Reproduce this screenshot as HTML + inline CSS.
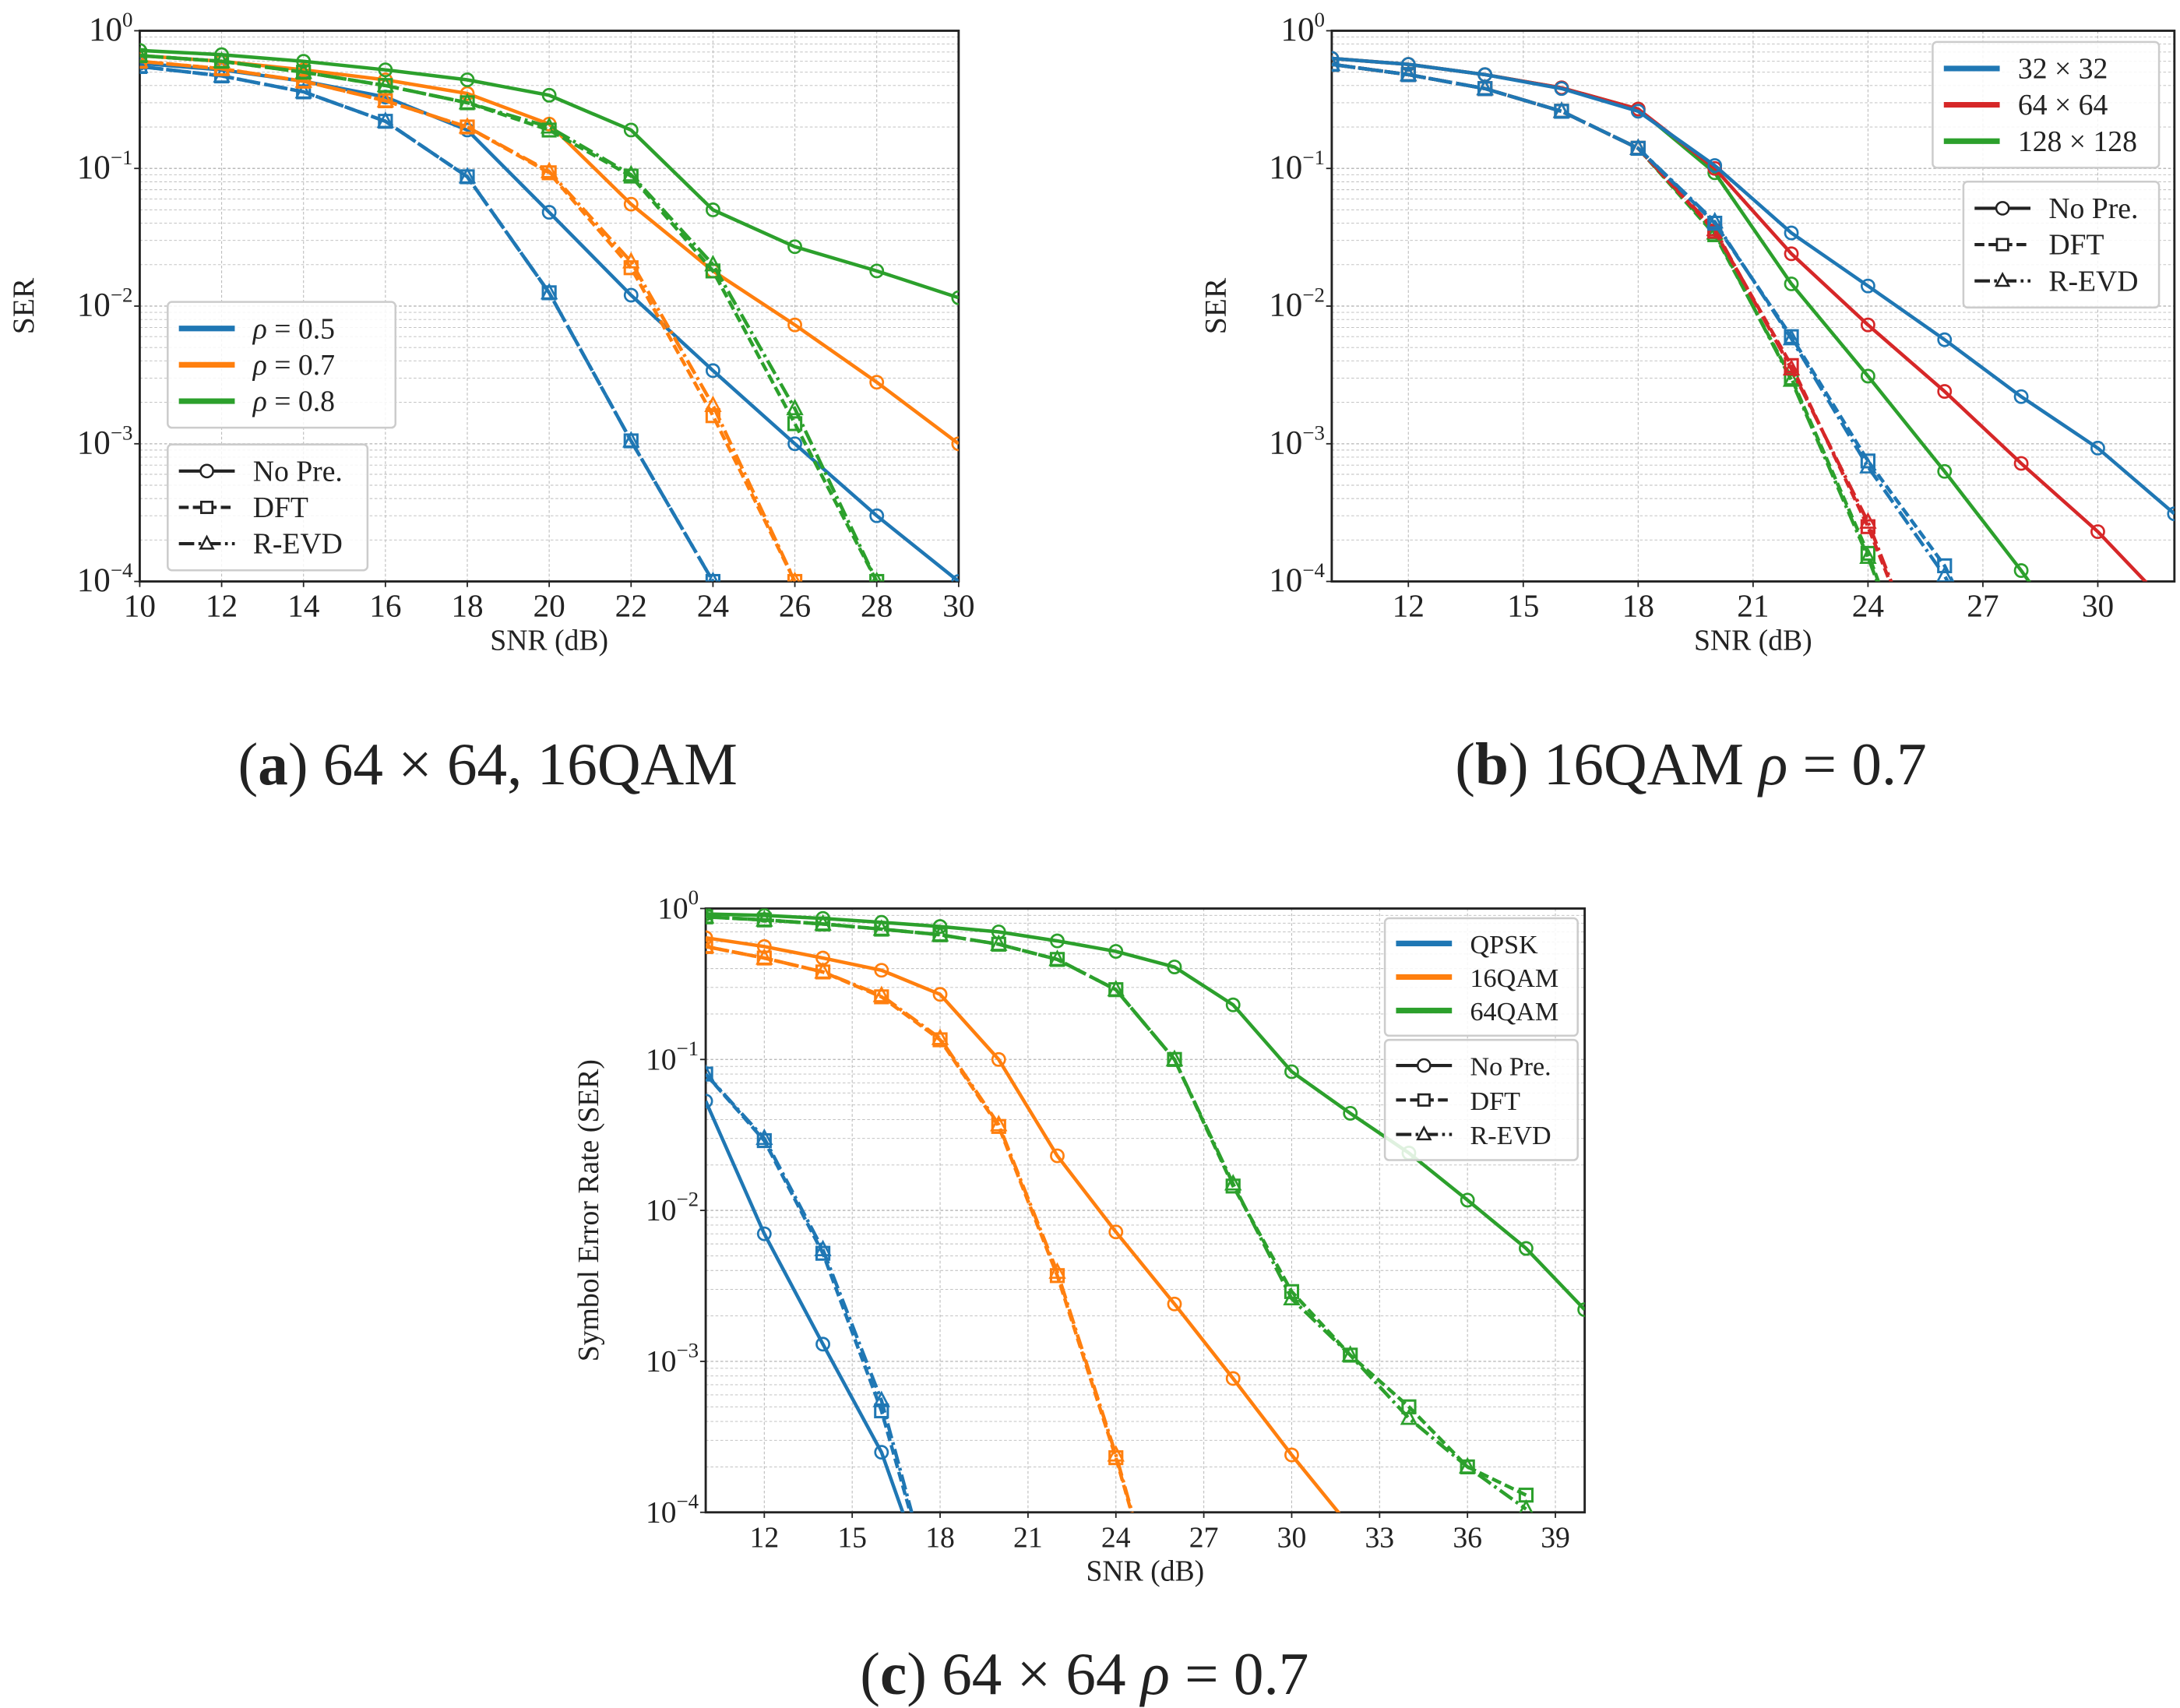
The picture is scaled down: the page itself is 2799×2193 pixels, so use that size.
<!DOCTYPE html>
<html><head><meta charset="utf-8">
<style>
html,body{margin:0;padding:0;background:#fff;}
svg{display:block;}
text{font-family:"Liberation Serif",serif;fill:#222;}
</style></head>
<body>
<svg id="fig" width="2799" height="2193" viewBox="0 0 1560 1222" preserveAspectRatio="none" xmlns="http://www.w3.org/2000/svg"></svg>
<script>
// ---------- Panel (a) data ----------
const aX = [10,12,14,16,18,20,22,24,26,28,30];
const aBlueNo  = [0.58,0.52,0.43,0.33,0.19,0.048,0.012,0.0034,0.001,0.0003,0.0001];
const aBlueDft = [0.55,0.47,0.36,0.22,0.087,0.0125,0.00105,0.0001];
const aBlueEvd = [0.55,0.47,0.36,0.22,0.087,0.0125,0.00105,0.0001];
const aOrNo    = [0.66,0.6,0.52,0.44,0.35,0.21,0.055,0.018,0.0073,0.0028,0.001];
const aOrDft   = [0.6,0.53,0.43,0.31,0.2,0.093,0.019,0.0016,0.0001];
const aOrEvd   = [0.6,0.53,0.43,0.31,0.2,0.095,0.021,0.0019,0.0001];
const aGrNo    = [0.72,0.67,0.6,0.52,0.44,0.34,0.19,0.05,0.027,0.018,0.0115];
const aGrDft   = [0.66,0.6,0.5,0.4,0.3,0.19,0.088,0.018,0.0014,0.0001];
const aGrEvd   = [0.66,0.6,0.5,0.4,0.3,0.2,0.09,0.02,0.0018,0.0001];
const aTicks = ["10","12","14","16","18","20","22","24","26","28","30"];
// ---------- Panel (b) data ----------
const bX = [10,12,14,16,18,20,22,24,26,28,30,32];
const bBlueNo = [0.63,0.57,0.48,0.38,0.26,0.105,0.034,0.014,0.0057,0.0022,0.00093,0.00031];
const bRedNo  = [0.63,0.57,0.48,0.385,0.27,0.1,0.024,0.0073,0.0024,0.00072,0.00023,0.00006];
const bGrNo   = [0.63,0.57,0.48,0.385,0.27,0.093,0.0145,0.0031,0.00063,0.00012,0.00002];
const bBlueDft= [0.57,0.48,0.38,0.26,0.14,0.04,0.006,0.00075,0.00013,0.00001];
const bRedDft = [0.57,0.48,0.38,0.26,0.14,0.035,0.0037,0.00025,0.00001];
const bGrDft  = [0.57,0.48,0.38,0.26,0.14,0.033,0.003,0.00016,0.000005];
const bBlueEvd= [0.57,0.48,0.38,0.26,0.14,0.041,0.0058,0.00068,0.00011,0.00001];
const bRedEvd = [0.57,0.48,0.38,0.26,0.14,0.036,0.0035,0.00027,0.00001];
const bGrEvd  = [0.57,0.48,0.38,0.26,0.14,0.034,0.0029,0.00015,0.000005];
const bTickVals = [12,15,18,21,24,27,30];
// ---------- Panel (c) data ----------
const cX = [10,12,14,16,18,20,22,24,26,28,30,32,34,36,38,40];
const cQNo  = [0.053,0.007,0.0013,0.00025,0.00002];
const cQDft = [0.08,0.029,0.0052,0.00047,0.00002];
const cQEvd = [0.08,0.03,0.0055,0.00055,0.00002];
const c16No = [0.64,0.56,0.47,0.39,0.27,0.1,0.023,0.0072,0.0024,0.00077,0.00024,0.00008];
const c16Dft= [0.56,0.47,0.38,0.26,0.135,0.036,0.0037,0.00023,0.00001];
const c16Evd= [0.56,0.47,0.38,0.265,0.138,0.037,0.0039,0.00024,0.00001];
const c64No = [0.92,0.9,0.86,0.81,0.76,0.7,0.61,0.52,0.41,0.23,0.083,0.044,0.024,0.0117,0.0056,0.0022];
const c64Dft= [0.88,0.84,0.79,0.73,0.67,0.58,0.46,0.29,0.1,0.0145,0.0029,0.0011,0.0005,0.0002,0.00013];
const c64Evd= [0.88,0.84,0.79,0.73,0.67,0.58,0.46,0.29,0.1,0.015,0.0026,0.0011,0.00042,0.0002,0.000105];
const cTickVals = [12,15,18,21,24,27,30,33,36,39];

const NS="http://www.w3.org/2000/svg";
const svg=document.getElementById('fig');
const BLUE="#1f77b4",ORANGE="#ff7f0e",GREEN="#2ca02c",RED="#d62728";
function mk(tag,attrs,parent){const e=document.createElementNS(NS,tag);for(const k in attrs)e.setAttribute(k,attrs[k]);(parent||svg).appendChild(e);return e;}

function panel(id,L,R,T,B,x0,x1,xTickVals,xTickLabels,ylabel,serifTicks){
  const g=mk('g',{});
  
  
  const sx=v=>L+(v-x0)/(x1-x0)*(R-L);
  const sy=v=>T+(-Math.log10(v))/4*(B-T);
  const cp=mk('clipPath',{id:'clip-'+id},g);
  mk('rect',{x:L,y:T,width:R-L,height:B-T},cp);
  const grid=mk('g',{stroke:'#bbb','stroke-width':0.6,'stroke-dasharray':'2,1.5'},g);
  
  
  for(let d=0;d<4;d++)for(let m=1;m<=9;m++){const v=Math.pow(10,-4+d)*m;const y=sy(v);mk('line',{x1:L,x2:R,y1:y,y2:y,'stroke-width':m==1?0.8:0.5},grid);}
  xTickVals.forEach(v=>{const x=sx(v);mk('line',{x1:x,x2:x,y1:T,y2:B},grid);});
  const fr=mk('rect',{x:L,y:T,width:R-L,height:B-T,fill:'none',stroke:'#222','stroke-width':1.6},g);
  
  
  const ff=serifTicks?'"Liberation Serif",serif':'"Liberation Sans","DejaVu Sans Condensed",sans-serif';
  const fs=serifTicks?21:23;
  xTickVals.forEach((v,i)=>{const x=sx(v);mk('line',{x1:x,x2:x,y1:B,y2:B+4,stroke:'#222'},g);
    const t=mk('text',{x:x,y:B+25,'text-anchor':'middle','font-size':fs,'font-family':ff},g);t.textContent=xTickLabels[i];
    
    });
  for(let d=0;d<=4;d++){const y=sy(Math.pow(10,-d));mk('line',{x1:L-4,x2:L,y1:y,y2:y,stroke:'#222'},g);
    const t=mk('text',{x:L-5,y:y+7,'text-anchor':'end','font-size':fs+1,'font-family':ff},g);
    t.textContent='10';const s=mk('tspan',{dy:-10,'font-size':15},t);s.textContent=d==0?'0':'\u2212'+d;
    
    }
  const xl=mk('text',{x:(L+R)/2,y:B+49,'text-anchor':'middle','font-size':21,'font-family':ff},g);xl.textContent='SNR (dB)';
  
  
  const ylx=L-(serifTicks?77:76);
  const yl=mk('text',{x:ylx,y:(T+B)/2,'text-anchor':'middle','font-size':serifTicks?21:22,transform:`rotate(-90 ${ylx} ${(T+B)/2})`},g);yl.textContent=ylabel;
  
  
  const plot=mk('g',{'clip-path':`url(#clip-${id})`},g);
  return {g,plot,sx,sy};
}
const DASH={no:'none',dft:'7,3',evd:'11,3,2,3'};
function series(P,name,xs,ys,color,kind){
  const pts=ys.map((v,i)=>[P.sx(xs[i]),P.sy(v)]);
  const pl=mk('polyline',{points:pts.map(p=>p.join(',')).join(' '),fill:'none',stroke:color,'stroke-width':2.5,'stroke-dasharray':DASH[kind]},P.plot);
  
  
  pts.forEach(p=>{let m;
    if(kind=='no')m=mk('circle',{cx:p[0],cy:p[1],r:4.5,fill:'none',stroke:color,'stroke-width':1.5},P.plot);
    else if(kind=='dft')m=mk('rect',{x:p[0]-4.5,y:p[1]-4.5,width:9,height:9,fill:'none',stroke:color,'stroke-width':1.7},P.plot);
    else m=mk('polygon',{points:`${p[0]},${p[1]-5.5} ${p[0]-5},${p[1]+4} ${p[0]+5},${p[1]+4}`,fill:'none',stroke:color,'stroke-width':1.5},P.plot);
    
    });
}
function legend(name,x,y,w,h,entries,fs,serif){
  const g=mk('g',{});
  
  
  mk('rect',{x:x,y:y,width:w,height:h,rx:3,fill:'#fff','fill-opacity':0.85,stroke:'#ccc','stroke-width':1.4},g);
  const ff=serif?'"Liberation Serif",serif':'"Liberation Sans",sans-serif';
  const step=(h-12)/entries.length;
  entries.forEach((e,i)=>{const ey=y+6+step*(i+0.5);
    const lx=x+8,rx2=x+48,cx=(lx+rx2)/2;
    if(e.kind){mk('line',{x1:lx,x2:rx2,y1:ey,y2:ey,stroke:'#222','stroke-width':2.3,'stroke-dasharray':DASH[e.kind]},g);
      if(e.kind=='no')mk('circle',{cx:cx,cy:ey,r:4.5,fill:'#fff',stroke:'#222','stroke-width':1.4},g);
      else if(e.kind=='dft')mk('rect',{x:cx-4,y:ey-4,width:8,height:8,fill:'#fff',stroke:'#222','stroke-width':1.5},g);
      else mk('polygon',{points:`${cx},${ey-5} ${cx-4.5},${ey+3.5} ${cx+4.5},${ey+3.5}`,fill:'#fff',stroke:'#222','stroke-width':1.4},g);}
    else mk('line',{x1:lx,x2:rx2,y1:ey,y2:ey,stroke:e.color,'stroke-width':4},g);
    const t=mk('text',{x:x+61,y:ey+7,'font-size':fs,'font-family':ff},g);t.innerHTML=e.label;
    
    });
}

// Panel a
const A=panel('panel-a',100,686,22,416,10,30,aX,aTicks,'SER',false);
series(A,'a-rho05-nopre',aX,aBlueNo,BLUE,'no');
series(A,'a-rho05-dft',aX,aBlueDft,BLUE,'dft');
series(A,'a-rho05-revd',aX,aBlueEvd,BLUE,'evd');
series(A,'a-rho07-nopre',aX,aOrNo,ORANGE,'no');
series(A,'a-rho07-dft',aX,aOrDft,ORANGE,'dft');
series(A,'a-rho07-revd',aX,aOrEvd,ORANGE,'evd');
series(A,'a-rho08-nopre',aX,aGrNo,GREEN,'no');
series(A,'a-rho08-dft',aX,aGrDft,GREEN,'dft');
series(A,'a-rho08-revd',aX,aGrEvd,GREEN,'evd');
legend('a-color-legend',120,216,163,90,[{color:BLUE,label:'<tspan font-style="italic">ρ</tspan> = 0.5'},{color:ORANGE,label:'<tspan font-style="italic">ρ</tspan> = 0.7'},{color:GREEN,label:'<tspan font-style="italic">ρ</tspan> = 0.8'}],21,false);
legend('a-style-legend',120,318,143,90,[{kind:'no',label:'No Pre.'},{kind:'dft',label:'DFT'},{kind:'evd',label:'R-EVD'}],21,false);

// Panel b
const B=panel('panel-b',953,1556,22,416,10,32,bTickVals,bTickVals.map(String),'SER',false);
series(B,'b-128-nopre',bX,bGrNo,GREEN,'no');
series(B,'b-64-nopre',bX,bRedNo,RED,'no');
series(B,'b-32-nopre',bX,bBlueNo,BLUE,'no');
series(B,'b-128-dft',bX,bGrDft,GREEN,'dft');
series(B,'b-128-revd',bX,bGrEvd,GREEN,'evd');
series(B,'b-64-dft',bX,bRedDft,RED,'dft');
series(B,'b-64-revd',bX,bRedEvd,RED,'evd');
series(B,'b-32-dft',bX,bBlueDft,BLUE,'dft');
series(B,'b-32-revd',bX,bBlueEvd,BLUE,'evd');
legend('b-color-legend',1383,30,162,90,[{color:BLUE,label:'32 × 32'},{color:RED,label:'64 × 64'},{color:GREEN,label:'128 × 128'}],21,false);
legend('b-style-legend',1405,130,140,90,[{kind:'no',label:'No Pre.'},{kind:'dft',label:'DFT'},{kind:'evd',label:'R-EVD'}],21,false);

// Panel c
const C=panel('panel-c',505,1134,650,1082,10,40,cTickVals,cTickVals.map(String),'Symbol Error Rate (SER)',true);
series(C,'c-qpsk-nopre',cX,cQNo,BLUE,'no');
series(C,'c-qpsk-dft',cX,cQDft,BLUE,'dft');
series(C,'c-qpsk-revd',cX,cQEvd,BLUE,'evd');
series(C,'c-16qam-nopre',cX,c16No,ORANGE,'no');
series(C,'c-16qam-dft',cX,c16Dft,ORANGE,'dft');
series(C,'c-16qam-revd',cX,c16Evd,ORANGE,'evd');
series(C,'c-64qam-nopre',cX,c64No,GREEN,'no');
series(C,'c-64qam-dft',cX,c64Dft,GREEN,'dft');
series(C,'c-64qam-revd',cX,c64Evd,GREEN,'evd');
legend('c-color-legend',991,657,138,84,[{color:BLUE,label:'QPSK'},{color:ORANGE,label:'16QAM'},{color:GREEN,label:'64QAM'}],19,true);
legend('c-style-legend',991,744,138,86,[{kind:'no',label:'No Pre.'},{kind:'dft',label:'DFT'},{kind:'evd',label:'R-EVD'}],19,true);

// captions
function caption(name,x,y,html){const t=mk('text',{x:x,y:y,'text-anchor':'middle','font-size':43},svg);t.innerHTML=html;
  
  }
caption('caption-a',349,561,'(<tspan font-weight="bold">a</tspan>) 64 × 64, 16QAM');
caption('caption-b',1210,561,'(<tspan font-weight="bold">b</tspan>) 16QAM <tspan font-style="italic">ρ</tspan> = 0.7');
caption('caption-c',776,1212,'(<tspan font-weight="bold">c</tspan>) 64 × 64 <tspan font-style="italic">ρ</tspan> = 0.7');
</script>
</body></html>
